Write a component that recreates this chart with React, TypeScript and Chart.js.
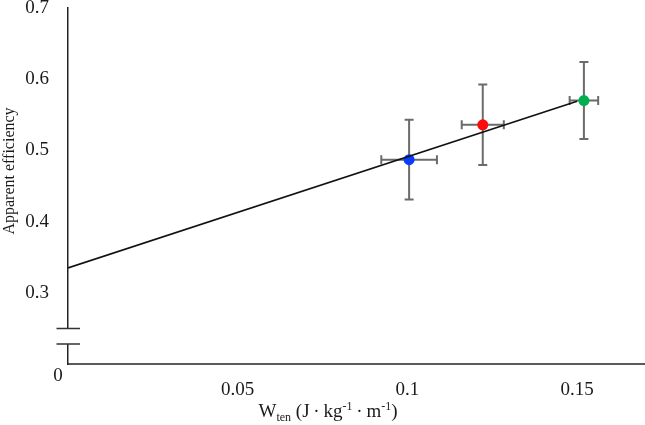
import React, { useEffect, useRef } from "react";
import { Chart, registerables } from "chart.js";

Chart.register(...registerables);

// ---- data ----
const wTen = [0.1005, 0.1222, 0.152];
const efficiency = [0.487, 0.536, 0.570];
const wTenErr = [0.0082, 0.0062, 0.0042];
const efficiencyErr = [0.056, 0.0565, 0.054];
const fitX = [0, 0.15];
const fitY = [0.335, 0.569];
const xTicks = [0.05, 0.1, 0.15];
const yTicks = [0.2, 0.3, 0.4, 0.5, 0.6, 0.7];
const yBreak = [0.25, 0.228];

const pointColors = ["#0a3cff", "#ff0a0a", "#00b050"];
const FONT = '"Liberation Serif", "Times New Roman", serif';
const TEXT = "#1a1a1a";

const errorBarPlugin = {
  id: "errorBars",
  beforeDatasetsDraw(chart: any) {
    const { ctx, scales } = chart;
    const xs = scales.x;
    const ys = scales.y;
    ctx.save();
    ctx.strokeStyle = "#6b6b6b";
    ctx.lineWidth = 2;
    const cap = 4.5;
    for (let i = 0; i < wTen.length; i++) {
      const cx = xs.getPixelForValue(wTen[i]);
      const cy = ys.getPixelForValue(efficiency[i]);
      const x0 = xs.getPixelForValue(wTen[i] - wTenErr[i]);
      const x1 = xs.getPixelForValue(wTen[i] + wTenErr[i]);
      const y0 = ys.getPixelForValue(efficiency[i] + efficiencyErr[i]);
      const y1 = ys.getPixelForValue(efficiency[i] - efficiencyErr[i]);
      ctx.beginPath();
      ctx.moveTo(x0, cy); ctx.lineTo(x1, cy);
      ctx.moveTo(x0, cy - cap); ctx.lineTo(x0, cy + cap);
      ctx.moveTo(x1, cy - cap); ctx.lineTo(x1, cy + cap);
      ctx.moveTo(cx, y0); ctx.lineTo(cx, y1);
      ctx.moveTo(cx - cap, y0); ctx.lineTo(cx + cap, y0);
      ctx.moveTo(cx - cap, y1); ctx.lineTo(cx + cap, y1);
      ctx.stroke();
    }
    ctx.restore();
  },
};

const decorPlugin = {
  id: "decor",
  afterDraw(chart: any) {
    const { ctx, scales, chartArea } = chart;
    const xs = scales.x;
    const ys = scales.y;
    const ax = xs.getPixelForValue(0);
    ctx.save();
    // axis break
    const b0 = ys.getPixelForValue(yBreak[0]);
    const b1 = ys.getPixelForValue(yBreak[1]);
    ctx.fillStyle = "#ffffff";
    ctx.fillRect(ax - 3, b0, 6, b1 - b0);
    ctx.strokeStyle = "#333333";
    ctx.lineWidth = 1.5;
    ctx.beginPath();
    ctx.moveTo(ax - 11.5, b0); ctx.lineTo(ax + 12, b0);
    ctx.moveTo(ax - 11.5, b1); ctx.lineTo(ax + 12, b1);
    ctx.stroke();

    // "0" at the corner
    ctx.fillStyle = TEXT;
    ctx.font = `19px ${FONT}`;
    ctx.textAlign = "center";
    ctx.textBaseline = "middle";
    ctx.fillText("0", ax - 10, chartArea.bottom + 12);

    // y-axis title
    ctx.save();
    ctx.translate(10, 171);
    ctx.rotate(-Math.PI / 2);
    ctx.font = `16px ${FONT}`;
    ctx.textAlign = "center";
    ctx.textBaseline = "middle";
    ctx.fillText("Apparent efficiency", 0, 0);
    ctx.restore();

    // x-axis title with sub/superscripts
    const parts = [
      { t: "W", s: 19, dy: 0 },
      { t: "ten", s: 12, dy: 4 },
      { t: " (J\u2009\u00B7\u2009kg", s: 19, dy: 0 },
      { t: "-1", s: 12, dy: -7 },
      { t: "\u2009\u00B7\u2009m", s: 19, dy: 0 },
      { t: "-1", s: 12, dy: -7 },
      { t: ")", s: 19, dy: 0 },
    ];
    let total = 0;
    for (const p of parts) {
      ctx.font = `${p.s}px ${FONT}`;
      total += ctx.measureText(p.t).width;
    }
    let x = 328 - total / 2;
    const base = 417;
    ctx.textAlign = "left";
    ctx.textBaseline = "alphabetic";
    for (const p of parts) {
      ctx.font = `${p.s}px ${FONT}`;
      ctx.fillText(p.t, x, base + p.dy);
      x += ctx.measureText(p.t).width;
    }
    ctx.restore();
  },
};

export default function App() {
  const ref = useRef<HTMLCanvasElement | null>(null);

  useEffect(() => {
    if (!ref.current) return;
    const chart = new Chart(ref.current, {
      type: "scatter",
      data: {
        datasets: [
          {
            type: "line",
            data: fitX.map((v, i) => ({ x: v, y: fitY[i] })),
            borderColor: "#111111",
            borderWidth: 1.6,
            pointRadius: 0,
            showLine: true,
            fill: false,
            order: 0,
          } as any,
          {
            type: "scatter",
            data: wTen.map((v, i) => ({ x: v, y: efficiency[i] })),
            backgroundColor: pointColors,
            borderColor: pointColors,
            pointRadius: 5.5,
            borderWidth: 0,
            order: 1,
          },
        ],
      },
      options: {
        responsive: false,
        animation: false,
        layout: { autoPadding: false, padding: { top: 8, right: 0, bottom: 0, left: 0 } },
        plugins: { legend: { display: false }, tooltip: { enabled: false } },
        scales: {
          x: {
            type: "linear",
            min: 0,
            max: 0.17,
            afterBuildTicks: (s: any) => {
              s.ticks = xTicks.map((v) => ({ value: v }));
            },
            afterFit: (s: any) => {
              s.height = 61;
              s.paddingLeft = 0;
              s.paddingRight = 0;
            },
            grid: { display: true, color: "transparent", drawTicks: false },
            border: { display: true, color: "#5a5a5a", width: 2 },
            ticks: {
              padding: 15,
              color: TEXT,
              font: { family: FONT, size: 19 },
              maxRotation: 0,
              callback: (v: any) => String(v),
            },
          },
          y: {
            type: "linear",
            min: 0.2,
            max: 0.7,
            afterBuildTicks: (s: any) => {
              s.ticks = yTicks.map((v) => ({ value: v }));
            },
            afterFit: (s: any) => {
              s.width = 68;
              s.paddingTop = 0;
              s.paddingBottom = 0;
            },
            grid: { display: true, color: "transparent", drawTicks: false },
            border: { display: true, color: "#222222", width: 1.5 },
            ticks: {
              padding: 19,
              color: TEXT,
              font: { family: FONT, size: 19 },
              callback: (v: any) => (Math.abs(v - 0.2) < 1e-9 ? "" : Number(v).toFixed(1)),
            },
          },
        },
      },
      plugins: [errorBarPlugin, decorPlugin],
    });
    return () => chart.destroy();
  }, []);

  return (
    <div style={{ position: "fixed", left: 0, top: 0, width: 645, height: 425, background: "#fff" }}>
      <canvas ref={ref} width={645} height={425} />
    </div>
  );
}
